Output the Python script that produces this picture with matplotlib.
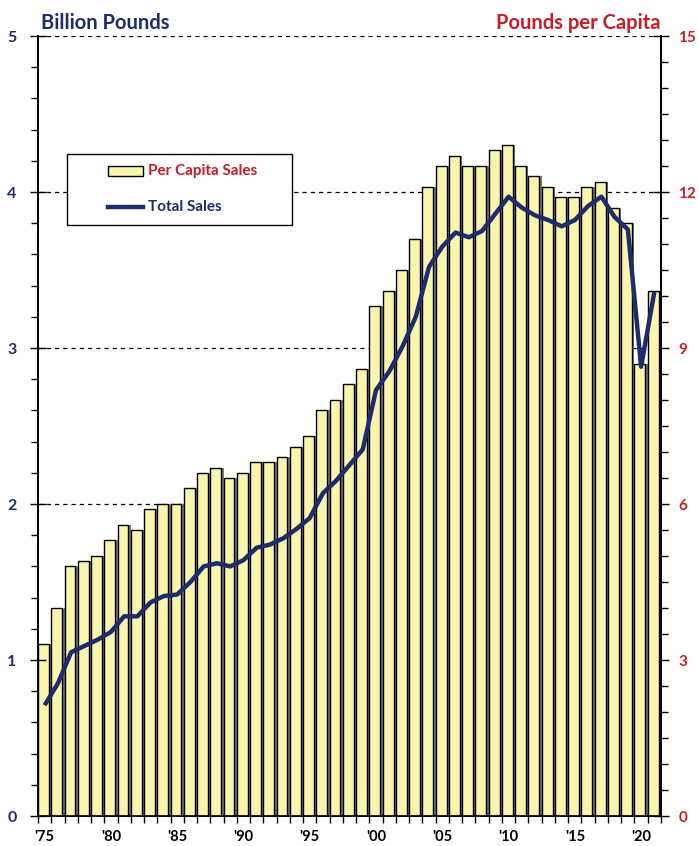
import matplotlib
matplotlib.use('Agg')
import matplotlib.pyplot as plt
from matplotlib.ticker import MultipleLocator, FixedLocator
from matplotlib.patches import Rectangle
from matplotlib.lines import Line2D

# ---------------- data ----------------
years = list(range(1975, 2022))
per_capita = [3.3, 4.0, 4.8, 4.9, 5.0, 5.3, 5.6, 5.5, 5.9, 6.0,
              6.0, 6.3, 6.6, 6.7, 6.5, 6.6, 6.8, 6.8, 6.9, 7.1,
              7.3, 7.8, 8.0, 8.3, 8.6, 9.8, 10.1, 10.5, 11.1, 12.1,
              12.5, 12.7, 12.5, 12.5, 12.8, 12.9, 12.5, 12.3, 12.1, 11.9,
              11.9, 12.1, 12.2, 11.7, 11.4, 8.7, 10.1]
total_sales = [0.71, 0.85, 1.05, 1.09, 1.13, 1.18, 1.28, 1.28, 1.37, 1.41,
               1.42, 1.50, 1.60, 1.62, 1.60, 1.64, 1.72, 1.74, 1.78, 1.84,
               1.91, 2.07, 2.15, 2.25, 2.35, 2.73, 2.85, 3.01, 3.20, 3.52,
               3.65, 3.74, 3.71, 3.75, 3.86, 3.97, 3.90, 3.85, 3.82, 3.78,
               3.82, 3.91, 3.97, 3.84, 3.76, 2.88, 3.36]
tick_years = [1975, 1980, 1985, 1990, 1995, 2000, 2005, 2010, 2015, 2020]
tick_labels = ["'75", "'80", "'85", "'90", "'95", "'00", "'05", "'10", "'15", "'20"]
left_ticks = [0, 1, 2, 3, 4, 5]
right_ticks = [0, 3, 6, 9, 12, 15]
left_title = 'Billion Pounds'
right_title = 'Pounds per Capita'
bar_label = 'Per Capita Sales'
line_label = 'Total Sales'

# ---------------- style ----------------
NAVY = '#1F2B6B'
RED = '#C41E2A'
YELLOW = '#F9F5AD'
SHADOW = '#777777'

plt.rcParams['font.family'] = ['Lato', 'DejaVu Sans']
plt.rcParams['font.weight'] = 'bold'

fig = plt.figure(figsize=(6.99, 8.46), dpi=100)
ax = fig.add_axes([38/699, 30/846, 623/699, 780/846])
ax2 = ax.twinx()

# bars (per capita) on the right-hand scale
bw = 0.82
xs_shadow = [y + 0.09 for y in years]
xs_bar = [y - 0.09 for y in years]
ax.bar(xs_shadow, per_capita, width=bw, color=SHADOW, linewidth=0, zorder=2)
ax.bar(xs_bar, per_capita, width=bw, color=YELLOW, edgecolor='black',
       linewidth=1.0, zorder=3)
ax.set_xlim(1974.5, 2021.5)
ax.set_ylim(0, 15)
ax.set_axisbelow(True)
ax.yaxis.tick_right()
ax.yaxis.set_label_position('right')
ax.yaxis.set_major_locator(FixedLocator(right_ticks))
ax.yaxis.set_minor_locator(MultipleLocator(0.5))
ax.tick_params(axis='y', which='major', direction='inout', length=11, width=1,
               labelsize=11, labelcolor=RED, pad=7,
               left=False, labelleft=False, right=True, labelright=True)
ax.tick_params(axis='y', which='minor', direction='out', length=5, width=1,
               left=False, right=True)
ax.yaxis.grid(True, which='major', linestyle=(0, (3.4, 3.2)), color='black', lw=0.9)

ax.set_xticks(tick_years)
ax.set_xticklabels(tick_labels)
ax.xaxis.set_minor_locator(MultipleLocator(1, offset=0.5))
ax.tick_params(axis='x', which='major', length=0, labelsize=10.5, pad=10, labelcolor='black')
ax.tick_params(axis='x', which='minor', direction='out', length=5, width=1)
for t in ax.get_xticklabels() + ax.get_yticklabels():
    t.set_fontweight('bold')

ax.spines['top'].set_visible(False)
for s in ['left', 'right', 'bottom']:
    ax.spines[s].set_linewidth(1.2)

# line (total sales) on the left-hand scale
ax2.plot(years, total_sales, color=NAVY, lw=3.2, zorder=5, solid_capstyle='butt')
ax2.set_ylim(0, 5)
ax2.yaxis.tick_left()
ax2.yaxis.set_label_position('left')
ax2.yaxis.set_major_locator(FixedLocator(left_ticks))
ax2.yaxis.set_minor_locator(MultipleLocator(0.2))
ax2.tick_params(axis='y', which='major', direction='inout', length=11, width=1,
                labelsize=11.5, labelcolor=NAVY, pad=10,
                left=True, labelleft=True, right=False, labelright=False)
ax2.tick_params(axis='y', which='minor', direction='out', length=5, width=1,
                left=True, right=False)
for t in ax2.get_yticklabels():
    t.set_fontweight('bold')
ax2.spines['top'].set_visible(False)
for s in ['left', 'right', 'bottom']:
    ax2.spines[s].set_linewidth(1.2)

# legend box (manual)
tr = ax2.transAxes
ax2.add_patch(Rectangle((0.0465, 0.7577), 0.3612, 0.091, transform=tr,
                        facecolor='white', edgecolor='black', lw=1.0, zorder=10))
ax2.add_patch(Rectangle((0.1124, 0.8205), 0.0561, 0.0128, transform=tr,
                        facecolor=YELLOW, edgecolor='black', lw=1.0, zorder=11))
ax2.add_line(Line2D([0.1124, 0.1685], [0.7808, 0.7808], transform=tr,
                    color=NAVY, lw=3.2, zorder=11))
ax2.text(0.1766, 0.8269, bar_label, transform=tr, color=RED, fontsize=11,
         fontweight='bold', va='center', ha='left', zorder=12)
ax2.text(0.1766, 0.7808, line_label, transform=tr, color=NAVY, fontsize=11,
         fontweight='bold', va='center', ha='left', zorder=12)

# axis titles
fig.text(41/699, 1 - 29/846, left_title, color=NAVY, fontsize=14.5,
         fontweight='bold', ha='left', va='baseline')
fig.text(660/699, 1 - 29/846, right_title, color=RED, fontsize=14.5,
         fontweight='bold', ha='right', va='baseline')

fig.savefig('out.png', dpi=100)
